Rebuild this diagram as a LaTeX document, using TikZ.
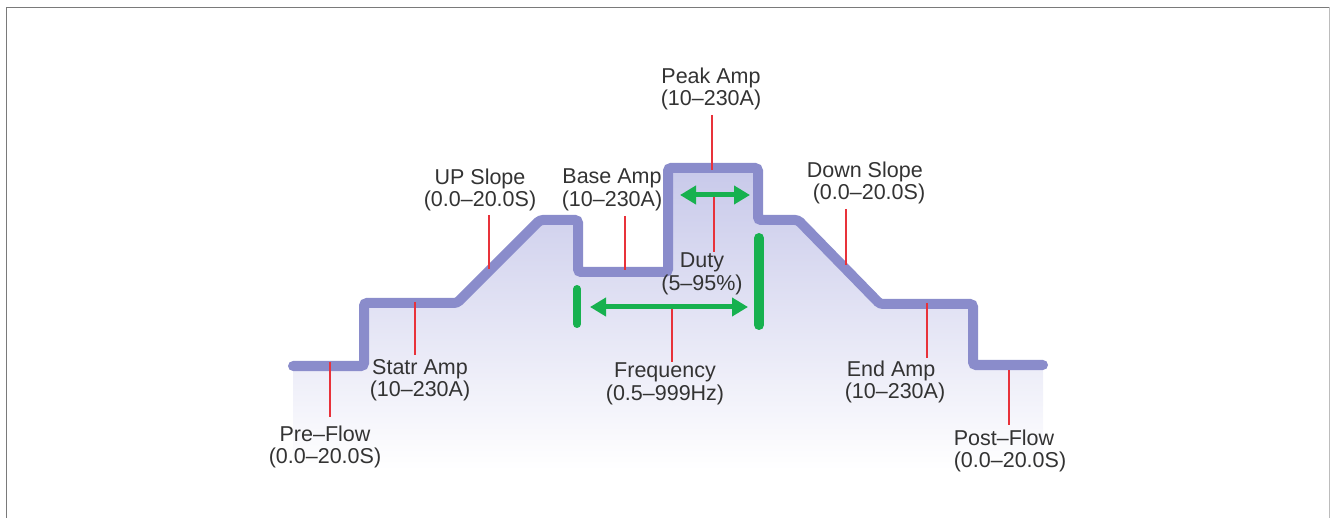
\documentclass[tikz,border=0pt]{standalone}
\usepackage{fontspec}
\setmainfont{Liberation Sans}
\usepackage{tikz}
\usetikzlibrary{arrows.meta,positioning}
\definecolor{curveLav}{HTML}{8A8CCB}
\definecolor{fillLav}{HTML}{C8C9EA}
\definecolor{tickRed}{HTML}{E8323A}
\definecolor{durGreen}{HTML}{17B14F}
\definecolor{lblGrey}{HTML}{333333}
\definecolor{frameGrey}{HTML}{7A7A7A}

\begin{document}
\begin{tikzpicture}[x=1pt,y=-1pt,
  lbl/.style={align=center,text=lblGrey,inner sep=0pt,font=\fontsize{21.5}{22.5}\selectfont},
  tick/.style={tickRed,line width=2pt},
  span/.style={durGreen,line width=5pt,{Triangle[length=16pt,width=18pt]}-{Triangle[length=16pt,width=18pt]}},
  bar/.style={durGreen,line cap=round}]
  \useasboundingbox (0,0) rectangle (1330,518);
  % frame, open at the bottom
  \draw[frameGrey,line width=1.5pt] (6.5,518) -- (6.5,7.5) -- (1329,7.5);
  \draw[frameGrey!50,line width=1pt] (1329,7.5) -- (1329,518);

  % shaded area under the welding cycle
  \shade[top color=fillLav,bottom color=white]
    (293,470) -- (293,366) -- (364,366) -- (364,303) -- (457,303) -- (540,220)
    -- (578,220) -- (578,272) -- (668,272) -- (668,168) -- (758,168) -- (758,220)
    -- (798,220) -- (880,304) -- (973,304) -- (973,365) -- (1043,365) -- (1043,470) -- cycle;
  % the cycle itself
  \draw[curveLav,line width=10pt,line cap=round,rounded corners=3pt]
    (293,366) -- (364,366) -- (364,303) -- (457,303) -- (540,220)
    -- (578,220) -- (578,272) -- (668,272) -- (668,168) -- (758,168) -- (758,220)
    -- (798,220) -- (880,304) -- (973,304) -- (973,365) -- (1043,365);

  % labels
  \node[lbl] (peak) at (711,89) {Peak Amp\\(10--230A)};
  \node[lbl] (base) at (612,190) {Base Amp\\(10--230A)};
  \node[lbl] (up) at (480,190) {UP Slope\\(0.0--20.0S)};
  \node[lbl] (start) at (420,380) {Statr Amp\\(10--230A)};
  \node[lbl] (pre) at (325,447) {Pre--Flow\\(0.0--20.0S)};
  \node[lbl] (duty) at (702,274) {Duty\\(5--95\%)};
  \node[lbl] (freq) at (665,384) {Frequency\\(0.5--999Hz)};
  \node[lbl,align=left] (down) at (866,183) {Down Slope\\\hspace*{6pt}(0.0--20.0S)};
  \node[lbl,align=left] (end) at (895,382) {\hspace*{2pt}End Amp\\(10--230A)};
  \node[lbl,align=left] (post) at (1010,451) {Post--Flow\\(0.0--20.0S)};

  % red leaders
  \coordinate (peakA) at (712,115);  \coordinate (peakB) at (712,170);
  \coordinate (baseA) at (625,216);  \coordinate (baseB) at (625,270);
  \coordinate (upA) at (489,215);    \coordinate (upB) at (489,269);
  \coordinate (startA) at (415,302); \coordinate (startB) at (415,355);
  \coordinate (preA) at (330,362);   \coordinate (preB) at (330,417);
  \coordinate (dutyA) at (714,196);  \coordinate (dutyB) at (714,252);
  \coordinate (freqA) at (672,307);  \coordinate (freqB) at (672,362);
  \coordinate (downA) at (846,209);  \coordinate (downB) at (846,265);
  \coordinate (endA) at (927,303);   \coordinate (endB) at (927,358);
  \coordinate (postA) at (1009,370); \coordinate (postB) at (1009,425);
  \foreach \t in {peak,base,up,start,pre,duty,freq,down,end,post}
    \draw[tick] (\t A) -- (\t B);

  % pulse period and duty
  \coordinate (dutyL) at (680,195);  \coordinate (dutyR) at (750,195);
  \coordinate (freqL) at (590,307);  \coordinate (freqR) at (748,307);
  \draw[span] (dutyL) -- (dutyR);
  \draw[span] (freqL) -- (freqR);
  \coordinate (barLa) at (577,289);  \coordinate (barLb) at (577,324);
  \coordinate (barRa) at (759,238);  \coordinate (barRb) at (759,325);
  \draw[bar,line width=8pt] (barLa) -- (barLb);
  \draw[bar,line width=10pt] (barRa) -- (barRb);
\end{tikzpicture}
\end{document}
